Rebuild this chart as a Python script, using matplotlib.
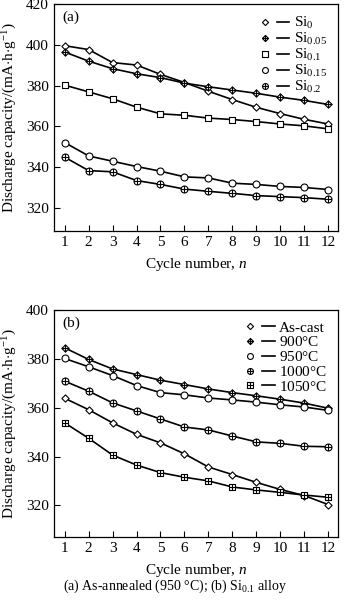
import numpy as np
import matplotlib
matplotlib.use('Agg')
import matplotlib.pyplot as plt
from matplotlib.path import Path
from matplotlib.lines import Line2D
from matplotlib.legend_handler import HandlerTuple

plt.rcParams['font.family'] = ['Liberation Serif', 'DejaVu Serif']
plt.rcParams['mathtext.fontset'] = 'custom'
plt.rcParams['mathtext.rm'] = 'Liberation Serif'
plt.rcParams['mathtext.it'] = 'Liberation Serif:italic'

cycles = list(range(1, 13))

# panel (a): as-annealed at 950 C
labels_a = ['Si$_0$', 'Si$_{0.05}$', 'Si$_{0.1}$', 'Si$_{0.15}$', 'Si$_{0.2}$']
si0 = [399.6, 397.7, 391.3, 390.1, 385.5, 381.5, 377.2, 373.1, 369.3, 366.2, 363.4, 361.1]
si005 = [396.5, 392.0, 388.3, 385.8, 383.9, 381.2, 379.4, 377.8, 376.2, 374.3, 372.7, 370.7]
si01 = [380.2, 376.9, 373.5, 369.4, 366.1, 365.4, 364.0, 363.3, 362.3, 361.1, 360.2, 358.7]
si015 = [352.0, 345.4, 342.8, 340.2, 337.9, 335.1, 334.6, 332.0, 331.4, 330.4, 329.9, 328.9]
si02 = [344.8, 338.2, 337.6, 333.3, 331.4, 329.1, 328.0, 327.0, 325.9, 325.4, 324.9, 324.1]

# panel (b): Si0.1 alloy
labels_b = ['As-cast', '900$\\degree$C', '950$\\degree$C', '1000$\\degree$C', '1050$\\degree$C']
as_cast = [363.9, 359.2, 353.8, 349.1, 345.6, 341.1, 335.7, 332.6, 329.4, 326.5, 324.0, 320.3]
t900 = [384.6, 379.8, 375.9, 373.6, 371.3, 369.5, 367.7, 366.2, 364.9, 363.5, 361.9, 359.8]
t950 = [380.2, 376.8, 373.2, 369.1, 366.2, 365.3, 364.0, 363.2, 362.3, 361.2, 360.3, 358.9]
t1000 = [370.9, 366.8, 362.0, 358.7, 355.4, 352.1, 350.9, 348.4, 346.0, 345.4, 344.2, 344.0]
t1050 = [353.8, 347.5, 340.6, 336.5, 333.4, 331.5, 330.0, 327.5, 326.3, 325.3, 324.2, 323.3]


def crossed(base):
    # outline shape with a plus drawn inside
    cross = Path([(-1, 0), (1, 0), (0, -1), (0, 1)],
                 [Path.MOVETO, Path.LINETO, Path.MOVETO, Path.LINETO])
    return Path.make_compound_path(base, cross)


diamond = Path([(0, 1), (1, 0), (0, -1), (-1, 0), (0, 1)], closed=True)
square = Path([(-1, -1), (1, -1), (1, 1), (-1, 1), (-1, -1)], closed=True)
circle = Path.unit_circle()

m_diamond = diamond
m_cdiamond = crossed(diamond)
m_square = square
m_csquare = crossed(square)
m_circle = circle
m_ccircle = crossed(circle)


def draw_panel(ax, series, labels, markers, sizes, ylim, yticks, tag, lspace):
    handles = []
    for y, lab, m, s in zip(series, labels, markers, sizes):
        ax.plot(cycles, y, color='black', linewidth=1.2, marker=m, markersize=s,
                markerfacecolor='white', markeredgecolor='black', markeredgewidth=0.8)
        mk = Line2D([], [], linestyle='none', marker=m, markersize=s * 0.85,
                    markerfacecolor='white', markeredgecolor='black', markeredgewidth=0.8)
        ln = Line2D([], [], color='black', linewidth=1.2)
        handles.append((mk, ln))
    ax.set_xlim(0.55, 12.4)
    ax.set_ylim(*ylim)
    ax.set_xticks(cycles)
    ax.set_yticks(yticks)
    ax.tick_params(direction='in', labelsize=11, length=4, width=0.8)
    for sp in ax.spines.values():
        sp.set_linewidth(0.9)
    ax.set_xlabel('Cycle number, $n$', fontsize=11, labelpad=5)
    ax.set_ylabel('Discharge capacity/(mA$\\cdot$h$\\cdot$g$^{-1}$)', fontsize=11, labelpad=5)
    ax.text(0.03, 0.97, tag, transform=ax.transAxes, fontsize=11, va='top', ha='left')
    ax.legend(handles, labels, loc='upper right', frameon=False, fontsize=11,
              handler_map={tuple: HandlerTuple(ndivide=None, pad=0.4)},
              handlelength=2.0, handletextpad=0.3, labelspacing=lspace,
              borderaxespad=0.3)


fig = plt.figure(figsize=(3.5, 6), dpi=100)
ax1 = fig.add_axes([0.154, 0.615, 0.811, 0.378])
ax2 = fig.add_axes([0.154, 0.105, 0.811, 0.378])

draw_panel(ax1, [si0, si005, si01, si015, si02], labels_a,
           [m_diamond, m_cdiamond, m_square, m_circle, m_ccircle],
           [5.2, 5.2, 4.4, 5.0, 5.0], (308.5, 420), range(320, 421, 20), '(a)', 0.0)
draw_panel(ax2, [as_cast, t900, t950, t1000, t1050], labels_b,
           [m_diamond, m_cdiamond, m_circle, m_ccircle, m_csquare],
           [5.2, 5.2, 5.0, 5.0, 4.4], (307, 400), range(320, 401, 20), '(b)', 0.05)

fig.text(0.5, 0.022, '(a) As-annealed (950 \u00b0C); (b) Si$_{0.1}$ alloy', ha='center',
         va='center', fontsize=10)

fig.savefig('out.png', dpi=100)
